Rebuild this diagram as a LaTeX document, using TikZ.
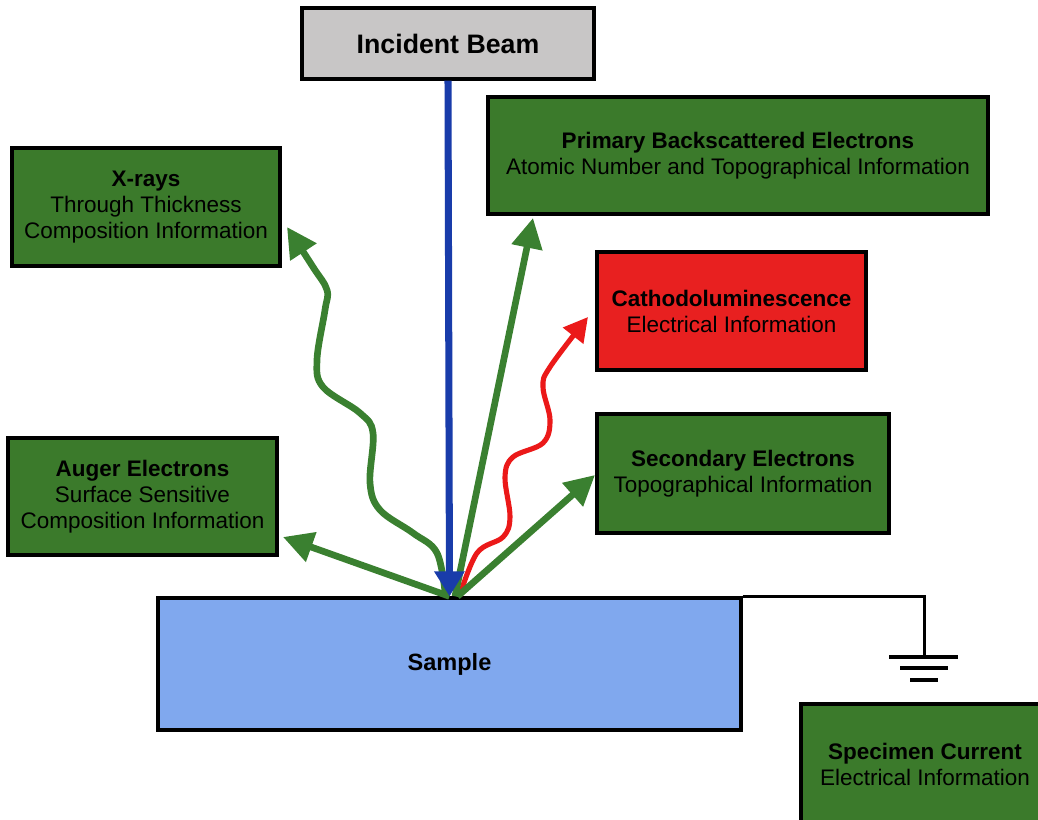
\documentclass[tikz,border=0pt]{standalone}
\usepackage{fontspec}
\setmainfont{Liberation Sans}
\usetikzlibrary{arrows.meta}

\definecolor{boxgreen}{RGB}{59,122,43}
\definecolor{raygreen}{RGB}{58,128,48}
\definecolor{boxred}{RGB}{232,32,32}
\definecolor{rayred}{RGB}{235,25,25}
\definecolor{beamblue}{RGB}{25,60,170}
\definecolor{beamgray}{RGB}{200,198,198}
\definecolor{sampleblue}{RGB}{128,168,238}

\begin{document}
\begin{tikzpicture}[%
        x=0.02cm, y=-0.02cm,
        every node/.style={rectangle, draw=black, line width=1.9pt, align=center, inner sep=0pt,
          font=\fontsize{12.8}{14.8}\selectfont},
        signal/.style={fill=boxgreen, minimum height=2.36cm},
        greenray/.style={draw=raygreen, line width=3.8pt, -{Triangle[length=0.6cm,width=0.6cm]}},
        redray/.style={draw=rayred, line width=2.9pt, -{Triangle[length=0.48cm,width=0.5cm]}},
        beamray/.style={draw=beamblue, line width=4pt, -{Triangle[length=0.5cm,width=0.58cm]}},
        ground/.style={line width=2.2pt}
      ]
      \clip (0,0) rectangle (1038,820);

      \node [fill=beamgray, minimum width=5.84cm, minimum height=1.42cm,
        font=\fontsize{15.2}{17}\selectfont\bfseries] (beam) at (448,43.5) {Incident Beam};
      \node [signal, minimum width=10cm, minimum height=2.34cm] (bse) at (738,155.5)
        {\textbf{Primary Backscattered Electrons}\\Atomic Number and Topographical Information};
      \node [signal, minimum width=5.36cm] (xray) at (146,207)
        {\textbf{X-rays}\\Through Thickness\\Composition Information};
      \node [signal, fill=boxred, minimum width=5.38cm] (cl) at (731.5,311)
        {\textbf{Cathodoluminescence}\\Electrical Information};
      \node [signal, minimum width=5.38cm, minimum height=2.34cm] (auger) at (142.5,496.5)
        {\textbf{Auger Electrons}\\Surface Sensitive\\Composition Information};
      \node [signal, minimum width=5.84cm, minimum height=2.38cm] (se) at (743,473.5)
        {\textbf{Secondary Electrons}\\Topographical Information};
      \node [fill=sampleblue, minimum width=11.66cm, minimum height=2.64cm,
        font=\fontsize{13.4}{15}\selectfont] (sample) at (449.5,664) {\textbf{Sample}};
      \node [signal, minimum width=4.96cm, minimum height=2.4cm] (current) at (925,764)
        {\textbf{Specimen Current}\\Electrical Information};

      % arrow tips
      \coordinate (xtip) at (287,227);
      \coordinate (augertip) at (283,537);
      \coordinate (bsetip) at (533,218);
      \coordinate (cltip) at (588,317);
      \coordinate (setip) at (595,475);
      \coordinate (gnd) at (924,657);

      \draw [redray] plot[smooth, tension=0.6] coordinates {([xshift=0.2cm]sample.north) (477,553) (503,537)
        (510,517) (505,477) (513,457) (543,443) (550,420) (543,387) (550,367) (cltip)};
      \draw [greenray] plot[smooth, tension=0.6] coordinates {([xshift=-0.08cm]sample.north) (437,553)
        (413,533) (380,510) (370,483) (373,433) (360,413) (323,387) (317,360) (325,310) (327,290)
        (313,267) (xtip)};
      \draw [greenray] (sample.north) -- (augertip);
      \draw [greenray] ([xshift=0.11cm]sample.north) -- (bsetip);
      \draw [greenray] ([xshift=0.16cm]sample.north) -- (setip);
      \draw [beamray] (beam.south) -- (sample.north);

      \draw [line width=1.7pt] (sample.north east) -| (gnd);
      \draw [ground] (gnd) ++(-35,0) -- ++(69,0)
        (gnd) ++(-24,11) -- ++(48,0)
        (gnd) ++(-14,23) -- ++(28,0);
    \end{tikzpicture}
\end{document}
